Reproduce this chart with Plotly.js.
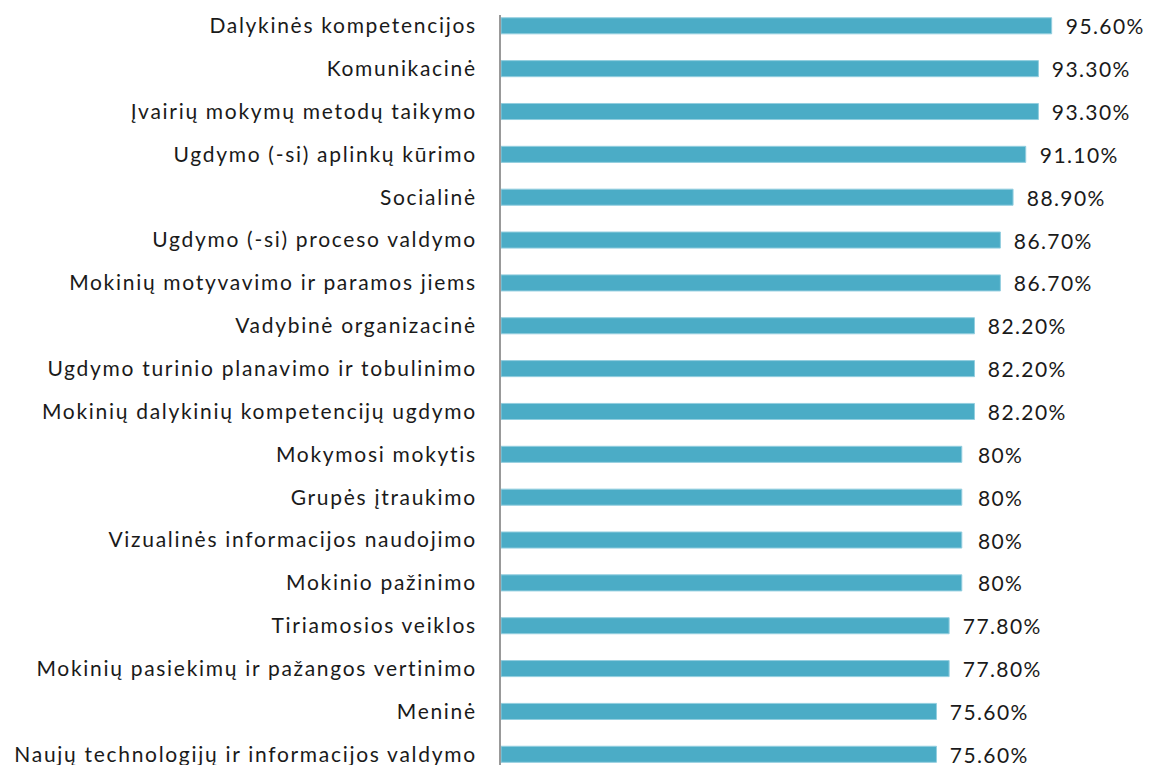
<!DOCTYPE html>
<html>
<head>
<meta charset="utf-8">
<script src="https://cdn.plot.ly/plotly-3.0.1.min.js"></script>
<style>
html,body{margin:0;padding:0;background:#fff;}
#chart{width:1151px;height:765px;}
#chart .ytick text{letter-spacing:1.7px;}
#chart .annotation-text{letter-spacing:1.4px;}
</style>
</head>
<body>
<div id="chart"></div>
<script>
const categories = [
  "Dalykinės kompetencijos",
  "Komunikacinė",
  "Įvairių mokymų metodų taikymo",
  "Ugdymo (-si) aplinkų kūrimo",
  "Socialinė",
  "Ugdymo (-si) proceso valdymo",
  "Mokinių motyvavimo ir paramos jiems",
  "Vadybinė organizacinė",
  "Ugdymo turinio planavimo ir tobulinimo",
  "Mokinių dalykinių kompetencijų ugdymo",
  "Mokymosi mokytis",
  "Grupės įtraukimo",
  "Vizualinės informacijos naudojimo",
  "Mokinio pažinimo",
  "Tiriamosios veiklos",
  "Mokinių pasiekimų ir pažangos vertinimo",
  "Meninė",
  "Naujų technologijų ir informacijos valdymo"
];
const values = [95.6, 93.3, 93.3, 91.1, 88.9, 86.7, 86.7, 82.2, 82.2, 82.2, 80, 80, 80, 80, 77.8, 77.8, 75.6, 75.6];
const valueLabels = ["95.60%", "93.30%", "93.30%", "91.10%", "88.90%", "86.70%", "86.70%", "82.20%", "82.20%", "82.20%", "80%", "80%", "80%", "80%", "77.80%", "77.80%", "75.60%", "75.60%"];

const FONT = "Lato, 'Open Sans', sans-serif";
const TXT = "#1a1a1a";

const trace = {
  type: "bar",
  orientation: "h",
  x: values,
  y: categories,
  marker: {color: "#4BACC6", line: {color: "#93CEDF", width: 1}},
  hoverinfo: "none"
};

const annotations = values.map((v, i) => ({
  x: v, y: categories[i], xref: "x", yref: "y",
  text: valueLabels[i], showarrow: false,
  xanchor: "left", yanchor: "middle", xshift: 16,
  font: {family: FONT, size: 21, color: TXT}
}));

const layout = {
  width: 1151, height: 765,
  margin: {l: 501, r: 74, t: 15, b: 0, pad: 0},
  paper_bgcolor: "#fff", plot_bgcolor: "#fff",
  showlegend: false,
  bargap: 0.625,
  xaxis: {range: [0, 100], visible: false, fixedrange: true},
  yaxis: {
    type: "category",
    range: [17.25, -0.252],
    showline: true, linecolor: "#999999", linewidth: 2,
    showgrid: false, zeroline: false,
    ticks: "", ticklabelstandoff: 18,
    tickfont: {family: FONT, size: 21, color: TXT},
    fixedrange: true
  },
  annotations: annotations
};

Plotly.newPlot("chart", [trace], layout, {displayModeBar: false, staticPlot: true});
</script>
</body>
</html>
